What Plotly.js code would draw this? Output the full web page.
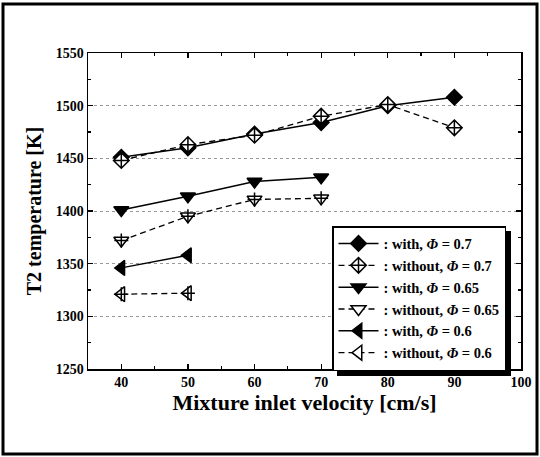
<!DOCTYPE html>
<html>
<head>
<meta charset="utf-8">
<script src="https://cdn.plot.ly/plotly-3.0.1.min.js"></script>
<style>
  html, body { margin: 0; padding: 0; background: #fff; }
  #chart { width: 540px; height: 457px; }
</style>
</head>
<body>
<div id="chart"></div>
<script>
// Mixture inlet velocity [cm/s]
const velocity = [40, 50, 60, 70, 80, 90];

// T2 temperature [K] for each equivalence ratio, with / without
const withPhi070    = [1451, 1460, 1473, 1484, 1500, 1508];
const withoutPhi070 = [1448, 1463, 1472, 1490, 1501, 1479];
const withPhi065    = [1401, 1414, 1428, 1432];
const withoutPhi065 = [1372, 1395, 1411, 1412];
const withPhi060    = [1346, 1358];
const withoutPhi060 = [1321, 1322];

const seriesNames = [
  ': with, <i>Φ</i> = 0.7',
  ': without, <i>Φ</i> = 0.7',
  ': with, <i>Φ</i> = 0.65',
  ': without, <i>Φ</i> = 0.65',
  ': with, <i>Φ</i> = 0.6',
  ': without, <i>Φ</i> = 0.6'
];

const xTickVals = [40, 50, 60, 70, 80, 90, 100];
const yTickVals = [1250, 1300, 1350, 1400, 1450, 1500, 1550];

const FONT = 'Liberation Serif, Times New Roman, serif';

function series(y, name, symbol, dash, size, fill) {
  return {
    x: velocity.slice(0, y.length),
    y: y,
    name: name,
    type: 'scatter',
    mode: 'lines+markers',
    line: { color: '#000', width: dash === 'solid' ? 1.5 : 1.3, dash: dash },
    marker: {
      symbol: symbol,
      size: size,
      color: fill,
      line: { color: '#000', width: 1.5 }
    }
  };
}

// thin cross drawn through the hollow triangles
function crossOverlay(y, size) {
  return {
    x: velocity.slice(0, y.length),
    y: y,
    type: 'scatter',
    mode: 'markers',
    showlegend: false,
    hoverinfo: 'skip',
    marker: { symbol: 'cross-thin-open', size: size, color: '#000', line: { color: '#000', width: 1.5 } }
  };
}

const DASH = '6px,4px';

const data = [
  series(withPhi070,    seriesNames[0], 'diamond',       'solid', 12, '#000'),
  series(withoutPhi070, seriesNames[1], 'diamond-cross', DASH,    12, '#fff'),
  series(withPhi065,    seriesNames[2], 'triangle-down', 'solid', 13, '#000'),
  series(withoutPhi065, seriesNames[3], 'triangle-down', DASH,    13, '#fff'),
  series(withPhi060,    seriesNames[4], 'triangle-left', 'solid', 13, '#000'),
  series(withoutPhi060, seriesNames[5], 'triangle-left', DASH,    13, '#fff'),
  crossOverlay(withoutPhi065, 10),
  crossOverlay(withoutPhi060, 10)
];

const axisCommon = {
  showline: true,
  linecolor: '#000',
  linewidth: 1.5,
  mirror: 'allticks',
  ticks: 'inside',
  ticklen: 5,
  tickwidth: 1.2,
  tickcolor: '#000',
  zeroline: false,
  tickfont: { family: FONT, size: 14, color: '#000', weight: 'bold' }
};

const M = { l: 88, r: 19, t: 53, b: 88 };
const W = 540, H = 457;
const plotW = W - M.l - M.r, plotH = H - M.t - M.b;
const toPaperX = px => (px - M.l) / plotW;
const toPaperY = py => (H - M.b - py) / plotH;

const LEGEND_LEFT = 332, LEGEND_TOP = 226, SHADOW = 5;

const layout = {
  width: W,
  height: H,
  margin: M,
  paper_bgcolor: '#fff',
  plot_bgcolor: '#fff',
  showlegend: true,
  xaxis: Object.assign({}, axisCommon, {
    range: [35, 100],
    tickvals: xTickVals,
    showgrid: false,
    minor: { dtick: 5, tick0: 0, ticks: 'inside', ticklen: 3, tickcolor: '#000', tickwidth: 1.2, showgrid: false },
    title: { text: 'Mixture inlet velocity [cm/s]', font: { family: FONT, size: 22, color: '#000', weight: 'bold' }, standoff: 5 }
  }),
  yaxis: Object.assign({}, axisCommon, {
    range: [1250, 1550],
    tickvals: yTickVals,
    showgrid: true,
    gridcolor: '#999',
    griddash: 'dot',
    gridwidth: 1,
    minor: { dtick: 25, tick0: 0, ticks: 'inside', ticklen: 3, tickcolor: '#000', tickwidth: 1.2, showgrid: false },
    title: { text: 'T2 temperature [K]', font: { family: FONT, size: 20, color: '#000', weight: 'bold' }, standoff: 8 }
  }),
  legend: {
    x: toPaperX(LEGEND_LEFT),
    y: toPaperY(LEGEND_TOP),
    xanchor: 'left',
    yanchor: 'top',
    bgcolor: '#fff',
    bordercolor: '#000',
    borderwidth: 1.5,
    itemwidth: 40,
    font: { family: FONT, size: 14.5, color: '#000', weight: 'bold' },
    tracegroupgap: 0
  },
  shapes: [
    // outer frame
    { type: 'rect', xref: 'paper', yref: 'paper', layer: 'above',
      x0: toPaperX(3), x1: toPaperX(537), y0: toPaperY(454), y1: toPaperY(4),
      line: { color: '#000', width: 3 } }
  ]
};

const gd = document.getElementById('chart');
Plotly.newPlot(gd, data, layout, { staticPlot: true, displayModeBar: false }).then(() => {
  // drop shadow offset below and to the right of the legend box
  const lg = gd._fullLayout.legend;
  const w = lg._width, h = lg._height;
  const shadow = {
    type: 'rect', xref: 'paper', yref: 'paper', layer: 'above',
    x0: toPaperX(LEGEND_LEFT + SHADOW), x1: toPaperX(LEGEND_LEFT + w + SHADOW),
    y0: toPaperY(LEGEND_TOP + h + SHADOW), y1: toPaperY(LEGEND_TOP + SHADOW),
    fillcolor: '#000', line: { width: 0 }
  };
  return Plotly.relayout(gd, { shapes: [shadow].concat(layout.shapes) });
});
</script>
</body>
</html>
